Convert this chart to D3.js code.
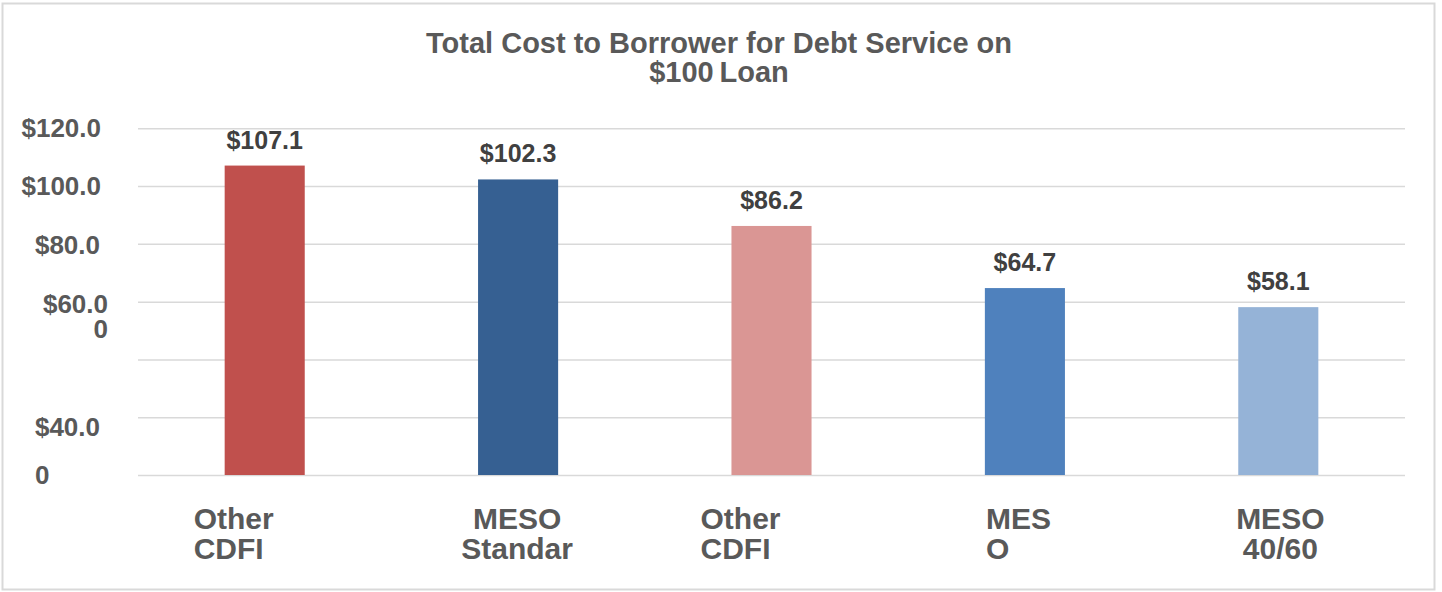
<!DOCTYPE html>
<html>
<head>
<meta charset="utf-8">
<script src="https://cdn.jsdelivr.net/npm/d3@7"></script>
<style>
  html, body { margin: 0; padding: 0; background: #fff; }
  svg { display: block; font-family: "Liberation Sans", Arial, sans-serif; font-weight: bold; }
</style>
</head>
<body>
<svg id="chart" width="1442" height="592"></svg>
<script>
// ---- data ----
const titleLines = ["Total Cost to Borrower for Debt Service on", "$100\u2009Loan"];
const categories = [["Other", "CDFI"], ["MESO", "Standar"], ["Other", "CDFI"], ["MES", "O"], ["MESO", "40/60"]];
const values = [107.1, 102.3, 86.2, 64.7, 58.1];
const valueLabels = ["$107.1", "$102.3", "$86.2", "$64.7", "$58.1"];
const barColors = ["#c0504d", "#366092", "#da9694", "#4f81bd", "#95b3d7"];
const tickValues = [0, 20, 40, 60, 80, 100, 120];
const tickLabels = [["0"], ["$40.0"], [""], ["$60.0", "0"], ["$80.0"], ["$100.0"], ["$120.0"]];

// ---- layout ----
const plot = { left: 138, right: 1405, top: 128.3, bottom: 475 };
const svg = d3.select("#chart");

svg.append("rect").attr("x", 2.5).attr("y", 3.5).attr("width", 1432).attr("height", 586)
  .attr("fill", "#fff").attr("stroke", "#d9d9d9").attr("stroke-width", 2);

const x = d3.scaleBand().domain(d3.range(values.length))
  .range([plot.left, plot.right]).paddingInner(0.684).paddingOuter(0.342);
const y = d3.scaleLinear().domain([0, 120]).range([plot.bottom, plot.top]);

// gridlines
const grid = svg.append("g").attr("transform", `translate(${plot.left},0)`)
  .call(d3.axisLeft(y).tickValues(tickValues).tickSize(-(plot.right - plot.left)).tickFormat(""));
grid.select(".domain").remove();
grid.selectAll(".tick line").attr("stroke", "#d9d9d9").attr("stroke-width", 1.5);

// y labels (as in the reference, with their odd wrapping)
const labelAdj = { 0: { x: 35, anchor: "start", dy: 0 }, 20: { x: 100, anchor: "end", dy: 10 },
                   40: { x: 100, anchor: "end", dy: 0 }, 60: { x: 108, anchor: "end", dy: 2 },
                   80: { x: 100, anchor: "end", dy: 1 }, 100: { x: 101, anchor: "end", dy: 0 },
                   120: { x: 101, anchor: "end", dy: 0 } };
const yl = svg.append("g").selectAll("g").data(tickValues).join("g")
  .attr("transform", d => `translate(${labelAdj[d].x},${y(d) + labelAdj[d].dy + 9})`);
yl.each(function(d, i) {
  const g = d3.select(this);
  tickLabels[i].forEach((line, j) => {
    g.append("text").attr("font-size", 26).attr("fill", "#595959")
      .attr("text-anchor", labelAdj[d].anchor)
      .attr("x", 0).attr("y", j * 25).text(line);
  });
});

// bars
svg.append("g").selectAll("rect").data(values).join("rect")
  .attr("x", (d, i) => x(i)).attr("width", x.bandwidth())
  .attr("y", d => y(d)).attr("height", d => y(0) - y(d))
  .attr("fill", (d, i) => barColors[i]);

// value labels
svg.append("g").selectAll("text").data(values).join("text")
  .attr("x", (d, i) => x(i) + x.bandwidth() / 2)
  .attr("y", d => y(d) - 17)
  .attr("text-anchor", "middle").attr("font-size", 25).attr("fill", "#404040")
  .text((d, i) => valueLabels[i]);

// category labels
const catStyle = [
  { anchor: "start", dx: -71 }, { anchor: "middle", dx: -1 }, { anchor: "start", dx: -71 },
  { anchor: "start", dx: -39 }, { anchor: "middle", dx: 2 }
];
const cl = svg.append("g").selectAll("text").data(categories).join("text")
  .attr("font-size", 30).attr("fill", "#595959")
  .attr("text-anchor", (d, i) => catStyle[i].anchor)
  .attr("transform", (d, i) => `translate(${x(i) + x.bandwidth() / 2 + catStyle[i].dx},529)`);
cl.each(function(d) {
  const t = d3.select(this);
  d.forEach((line, j) => t.append("tspan").attr("x", 0).attr("y", j * 30).text(line));
});

// title
const title = svg.append("text").attr("text-anchor", "middle").attr("font-size", 29)
  .attr("fill", "#595959").attr("transform", "translate(719,53)");
titleLines.forEach((line, j) => title.append("tspan").attr("x", 0).attr("y", j * 29).text(line));
</script>
</body>
</html>
